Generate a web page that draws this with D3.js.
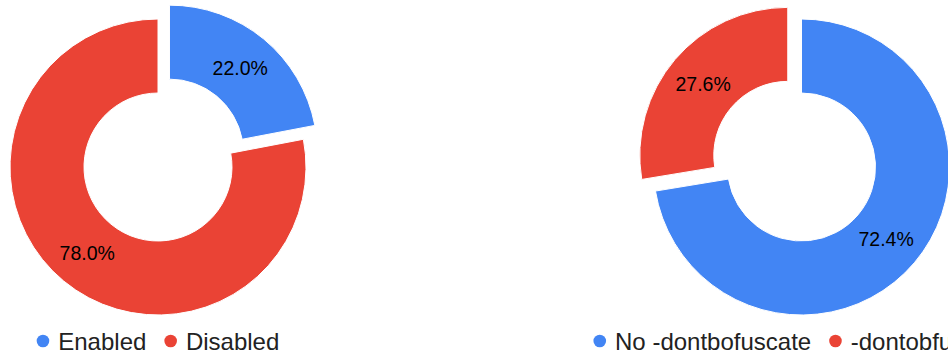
<!DOCTYPE html>
<html>
<head>
<meta charset="utf-8">
<script src="https://cdn.jsdelivr.net/npm/d3@7"></script>
<style>
  html, body { margin: 0; padding: 0; background: #fff; overflow: hidden; }
  svg { display: block; }
  text { font-family: "Liberation Sans", Arial, sans-serif; }
</style>
</head>
<body>
<svg id="chart" width="948" height="360"></svg>
<script>
// Obfuscation option share, two donuts
const leftCategories = ["Enabled", "Disabled"];
const leftValues = [22.0, 78.0];
const rightCategories = ["No -dontbofuscate", "-dontobfuscate"];
const rightValues = [72.4, 27.6];
const seriesColors = ["#4285f4", "#ea4335"];

const W = 948, H = 360;
const svg = d3.select("#chart");

const outerR = 148, innerR = 74, explodeOffset = 18;
const pctFormat = d3.format(".1%");

function donut(cx, cy, categories, values, explodedIndex) {
  const color = d3.scaleOrdinal().domain(categories).range(seriesColors);
  const total = d3.sum(values);
  const pie = d3.pie().sort(null).value(d => d.value);
  const arcs = pie(categories.map((c, i) => ({ name: c, value: values[i], index: i })));
  const arc = d3.arc().innerRadius(innerR).outerRadius(outerR);
  const labelArc = d3.arc().innerRadius((innerR + outerR) / 2).outerRadius((innerR + outerR) / 2);

  const g = svg.append("g").attr("transform", `translate(${cx},${cy})`);

  const slice = g.selectAll("g.slice").data(arcs).join("g")
    .attr("class", "slice")
    .attr("transform", d => {
      if (d.data.index !== explodedIndex) return null;
      const mid = (d.startAngle + d.endAngle) / 2;
      return `translate(${explodeOffset * Math.sin(mid)},${-explodeOffset * Math.cos(mid)})`;
    });

  slice.append("path")
    .attr("d", arc)
    .attr("fill", d => color(d.data.name))
    .attr("stroke", "#fff")
    .attr("stroke-width", 1);

  slice.append("text")
    .attr("transform", d => `translate(${labelArc.centroid(d)})`)
    .attr("text-anchor", "middle")
    .attr("dy", "0.36em")
    .attr("font-size", 19.5)
    .attr("fill", "#000")
    .text(d => pctFormat(d.data.value / total));

  // Legend centred beneath the donut
  const dotR = 6.3, dotGap = 9, itemGap = 18, fontSize = 24, baseY = 350;
  const lg = svg.append("g");
  let x = 0;
  categories.forEach((c, i) => {
    const item = lg.append("g");
    item.append("circle")
      .attr("cx", x + dotR).attr("cy", baseY - 9)
      .attr("r", dotR).attr("fill", color(c));
    const t = item.append("text")
      .attr("x", x + 2 * dotR + dotGap).attr("y", baseY)
      .attr("font-size", fontSize).attr("fill", "#222")
      .text(c);
    x += 2 * dotR + dotGap + t.node().getComputedTextLength() + itemGap;
  });
  const legendW = x - itemGap;
  lg.attr("transform", `translate(${cx - legendW / 2},0)`);
}

donut(158, 167, leftCategories, leftValues, 0);
donut(801.5, 167, rightCategories, rightValues, 1);
</script>
</body>
</html>
